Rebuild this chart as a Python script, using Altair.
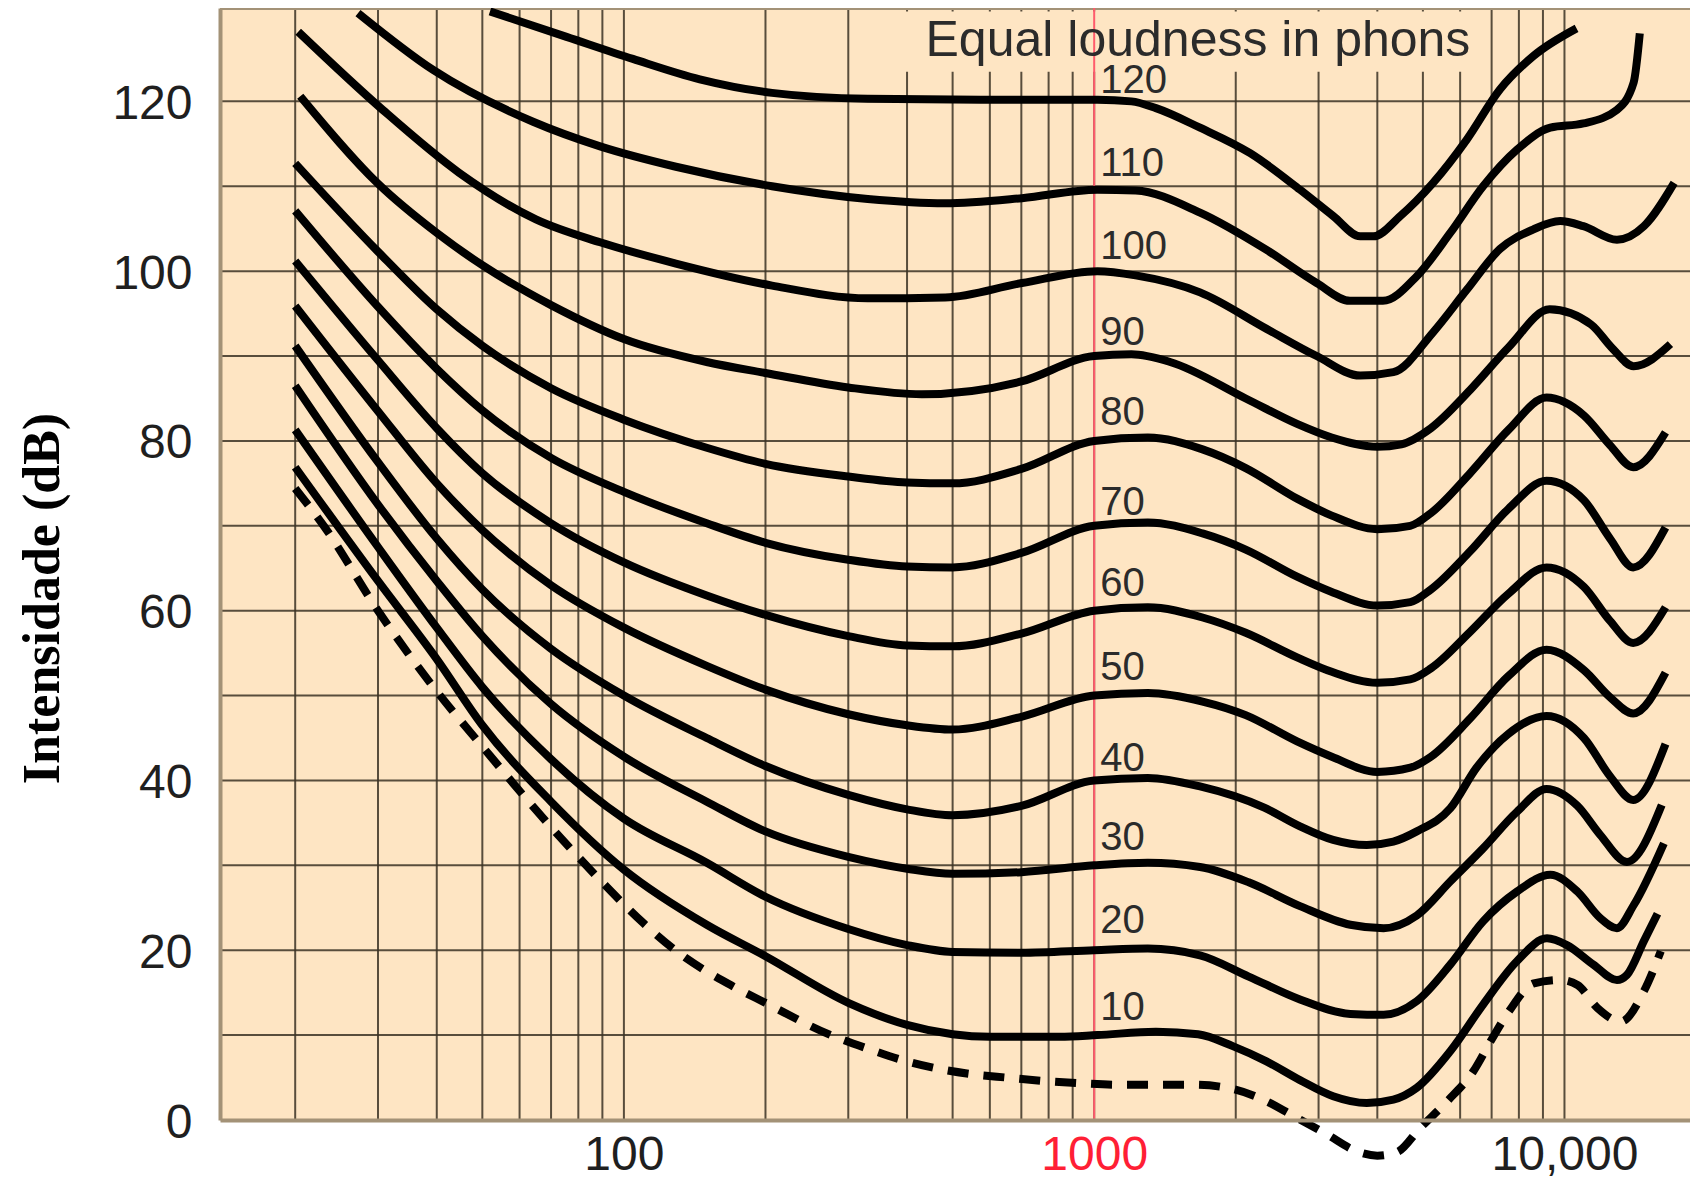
import altair as alt
import pandas as pd

# ---------------- data (frequency in Hz, level in dB) ----------------
f_thr = [20, 23, 30, 40, 50, 70, 90, 110, 130, 170, 200, 270, 330, 400, 460, 550, 650, 780, 950, 1140, 1374, 1625,
         1913, 2286, 2650, 3126, 3621, 4000, 4400, 4941, 5630, 6412, 6970, 7620, 8610, 9820, 10660, 11750, 13190, 14760, 16030]
db_thr = [74.4, 70.0, 60.0, 50.5, 44.0, 34.5, 28.0, 23.2, 19.8, 15.8, 13.8, 10.2, 8.4, 6.9, 6.1, 5.4, 5.0, 4.6, 4.3, 4.15, 4.15, 4.15,
          3.8, 2.4, 0.5, -1.7, -3.7, -4.2, -3.8, -0.9, 2.2, 5.8, 9.3, 12.8, 16.1, 16.5, 15.9, 13.2, 11.6, 15.2, 19.9]

f10 = [20, 30, 40, 50, 70, 100, 150, 200, 300, 400, 500, 600, 845, 1016, 1353, 1663, 1971, 2324, 2739, 3222, 3798, 4326, 4853,
       5716, 6714, 7921, 9180, 10120, 11520, 12930, 13580, 14760, 15770]
db10 = [76.9, 63.5, 54.3, 46.5, 37.5, 29.5, 23.0, 19.3, 13.8, 11.2, 10.1, 9.8, 9.8, 10.0, 10.4, 10.1, 8.7, 6.9, 4.7, 2.8, 2.0, 2.4, 3.8,
        8.1, 13.6, 18.7, 21.4, 20.6, 18.3, 16.5, 17.1, 21.1, 24.3]

f20 = [20, 30, 40, 50, 70, 100, 150, 200, 300, 400, 500, 700, 1000, 1300, 1679, 2131, 2739, 3505, 4126, 4853, 5716, 6714, 7921, 9330,
       10660, 11910, 12930, 14030, 16270]
db20 = [81.3, 67.5, 58.0, 51.0, 42.5, 35.5, 30.3, 26.3, 22.5, 20.6, 19.8, 19.7, 20.0, 20.2, 19.4, 16.9, 14.2, 12.5, 12.4, 14.0, 18.3, 23.4, 26.9, 28.9,
        26.9, 23.8, 22.6, 25.3, 32.6]

f30 = [20, 30, 40, 50, 70, 100, 150, 200, 300, 400, 500, 700, 1000, 1300, 1679, 2131, 2739, 3505, 4126, 4853, 5716, 6714, 7921, 9160,
       10660, 11910, 13580, 16100]
db30 = [86.5, 72.5, 63.5, 57.0, 49.0, 42.8, 37.5, 34.0, 31.0, 29.6, 29.0, 29.2, 30.0, 30.3, 29.8, 28.0, 25.2, 23.0, 22.6, 24.1, 28.1, 32.0, 36.3, 39.0,
        37.0, 33.6, 30.4, 37.1]

f40 = [20, 30, 40, 50, 70, 100, 150, 200, 300, 400, 500, 700, 1000, 1300, 1679, 2300, 2739, 3222, 3798, 4326, 4853, 5716, 6500, 7600, 9160,
       11000, 12500, 14000, 16400]
db40 = [91.2, 77.5, 68.5, 62.5, 55.5, 50.0, 45.0, 41.7, 38.3, 36.6, 35.9, 37.0, 40.0, 40.3, 39.3, 36.8, 34.6, 33.0, 32.4, 32.8, 34.0, 36.7, 41.5, 45.5, 47.6,
        45.0, 40.5, 37.7, 44.3]

f_mid = [20, 30, 40, 50, 70, 100, 150, 200, 300, 400, 500, 700, 1000, 1300, 1700, 2100, 2700, 3200, 4000, 4700, 5200, 6300, 7600, 9160,
         11000, 12500, 14000, 16400]
db50 = [95.9, 83.5, 75.0, 69.5, 63.0, 58.0, 53.5, 50.7, 47.8, 46.5, 46.0, 47.5, 50.0, 50.3, 49.3, 47.7, 44.6, 42.8, 41.0, 41.5, 42.8, 47.3, 52.3, 55.4,
        53.0, 49.8, 47.9, 52.7]
db60 = [101.2, 89.5, 81.5, 76.2, 70.3, 65.7, 61.8, 59.5, 57.0, 55.9, 55.8, 57.3, 60.0, 60.4, 59.2, 57.4, 54.5, 52.8, 51.5, 51.9, 53.2, 57.5, 62.0, 65.1,
        62.8, 58.8, 56.2, 60.4]
db70 = [107.1, 95.8, 88.5, 83.6, 78.0, 74.0, 70.3, 68.0, 66.0, 65.2, 65.1, 66.8, 70.0, 70.4, 69.1, 67.2, 64.0, 62.2, 60.6, 61.0, 62.5, 67.0, 72.0, 75.3,
        73.0, 68.5, 65.1, 69.8]
db80 = [112.7, 102.3, 95.5, 91.2, 86.2, 82.5, 79.2, 77.3, 75.8, 75.1, 75.0, 76.7, 80.0, 80.4, 79.0, 76.8, 73.2, 71.2, 69.6, 70.0, 71.5, 76.2, 81.3, 85.1,
        83.0, 79.5, 76.9, 81.0]

f90 = [20.5, 30, 40, 50, 70, 100, 150, 200, 300, 430, 700, 1000, 1200, 1450, 2100, 2700, 3200, 4000, 4500, 5200, 6300, 7600, 9300, 11400,
       12600, 14030, 16800]
db90 = [120.6, 110.3, 104.5, 100.7, 96.0, 92.0, 89.3, 88.0, 86.3, 85.5, 87.0, 90.0, 90.2, 89.3, 85.0, 82.0, 80.4, 79.3, 79.6, 81.5, 86.0, 91.0, 95.5, 93.7,
        91.0, 88.8, 91.4]

f100 = [20.3, 30.7, 44.6, 65, 89, 129, 206.5, 330, 482, 702, 1016, 1225, 1679, 2326, 2972, 3679, 4326, 5256, 6198, 7289,
        8570, 9790, 10970, 12930, 14760, 17110]
db100 = [128.2, 119.0, 111.6, 106.1, 103.4, 100.9, 98.3, 96.8, 96.9, 98.6, 100.0, 99.5, 97.5, 93.2, 90.0, 87.7, 88.1, 92.8, 97.8, 102.6,
         104.9, 105.9, 105.3, 103.7, 105.3, 110.4]

f110 = [27.2, 39.3, 64.1, 89, 129, 206.5, 330, 482, 702, 1016, 1225, 1679, 2326, 2972, 3499, 4112, 4853, 5716, 6714, 7921,
        9330, 10970, 12930, 14030, 14460]
db110 = [130.4, 123.7, 117.6, 114.7, 112.3, 110.0, 108.5, 108.0, 108.6, 109.6, 109.5, 106.9, 102.5, 98.6, 96.5, 96.5, 99.4, 104.5, 110.0, 114.3,
         116.9, 117.4, 119.0, 122.2, 128.0]

f120 = [51.9, 75.5, 104.5, 145, 206.5, 330, 579, 1016, 1200, 1353, 1679, 2146, 2739, 3222, 3679, 3921, 4477, 5256, 6198, 7289, 8570, 10610]
db120 = [130.6, 127.6, 125.0, 122.6, 121.0, 120.3, 120.2, 120.2, 120.0, 119.2, 116.9, 113.9, 109.6, 106.5, 104.1, 104.1, 106.5, 110.4, 115.5, 121.4,
         125.3, 128.6]

phon_labels = ["120", "110", "100", "90", "80", "70", "60", "50", "40", "30", "20", "10"]
phon_label_db = [122.4, 112.6, 102.9, 92.7, 83.3, 72.7, 63.2, 53.2, 42.5, 33.2, 23.4, 13.2]
phon_label_f = 1030

x_grid = [20, 30, 40, 50, 60, 70, 80, 90, 100, 200, 300, 400, 500, 600, 700, 800, 900,
          1000, 2000, 3000, 4000, 5000, 6000, 7000, 8000, 9000, 10000]
y_grid = [10, 20, 30, 40, 50, 60, 70, 80, 90, 100, 110, 120]
y_ticks = [0, 20, 40, 60, 80, 100, 120]
x_ticks = [100, 1000, 10000]
x_domain = [13.84, 18490]
y_domain = [0, 131]
title_text = "Equal loudness in phons"
title_pos = (1662, 125.4)
title_box_f = [350, 6600]
title_box_db = [123.5, 130.6]

BG = "#FEE5C3"
GRID = "#3b3325"
BORDER = "#a39277"
LABEL = "#1f1f1f"

# ---------------- build tables ----------------
curves = [("10", f10, db10), ("20", f20, db20), ("30", f30, db30), ("40", f40, db40),
          ("50", f_mid, db50), ("60", f_mid, db60), ("70", f_mid, db70), ("80", f_mid, db80),
          ("90", f90, db90), ("100", f100, db100), ("110", f110, db110), ("120", f120, db120)]
solid_df = pd.concat([pd.DataFrame({"f": f, "db": d, "curve": n, "i": list(range(len(f)))})
                      for n, f, d in curves], ignore_index=True)
thr_df = pd.DataFrame({"f": f_thr, "db": db_thr, "i": list(range(len(f_thr)))})
lab_df = pd.DataFrame({"f": [phon_label_f] * len(phon_labels), "db": phon_label_db, "t": phon_labels})

xscale = alt.Scale(type="log", domain=x_domain, nice=False)
yscale = alt.Scale(domain=y_domain, nice=False, zero=False)

x_axis = alt.Axis(
    values=x_ticks, grid=False, ticks=False, tickSize=0, domain=True, domainColor=BORDER, domainWidth=4,
    labelExpr="datum.value == 10000 ? '10,000' : datum.label",
    format="d",
    labelFont="Liberation Sans", labelFontSize=48, labelPadding=11, labelOverlap=False, labelFlush=False,
    labelBound=False,
    labelColor={"condition": {"test": "datum.value == 1000", "value": "#ff1f35"}, "value": LABEL},
    title=None, zindex=1,
)
y_axis = alt.Axis(
    values=y_ticks, grid=False, ticks=False, tickSize=0, domain=True, domainColor=BORDER, domainWidth=4,
    labelFont="Liberation Sans", labelFontSize=48, labelPadding=28, labelOffset=3,
    labelColor=LABEL, labelOverlap=False, labelFlush=False, labelBound=False,
    title="Intensidade (dB)", titleFont="Liberation Serif", titleFontSize=52, titleFontWeight="bold",
    titleColor="#000000", titleAngle=270, titleX=-178, titleY=590, titleAlign="center", titleBaseline="middle",
    zindex=1,
)

# plot background (same colour as the box behind the title)
bg = alt.Chart(pd.DataFrame({"f": [x_domain[0]], "f2": [x_domain[1]],
                             "db": [y_domain[0]], "db2": [y_domain[1]]})).mark_rect(
    fill=BG, strokeWidth=0).encode(
    x=alt.X("f:Q", scale=xscale, axis=x_axis), x2="f2:Q",
    y=alt.Y("db:Q", scale=yscale, axis=y_axis), y2="db2:Q")

vgrid = alt.Chart(pd.DataFrame({"f": x_grid})).mark_rule(color=GRID, strokeWidth=2, opacity=0.85).encode(
    x=alt.X("f:Q", scale=xscale))
hgrid = alt.Chart(pd.DataFrame({"db": y_grid})).mark_rule(color=GRID, strokeWidth=2, opacity=0.85).encode(
    y=alt.Y("db:Q", scale=yscale))

box = alt.Chart(pd.DataFrame({"f": [title_box_f[0]], "f2": [title_box_f[1]],
                              "db": [title_box_db[0]], "db2": [title_box_db[1]]})).mark_rect(
    fill=BG, strokeWidth=0).encode(
    x=alt.X("f:Q", scale=xscale), x2="f2:Q",
    y=alt.Y("db:Q", scale=yscale), y2="db2:Q")

top_border = alt.Chart(pd.DataFrame({"db": [y_domain[1]]})).mark_rule(
    color=BORDER, strokeWidth=4).encode(y=alt.Y("db:Q", scale=yscale))

red = alt.Chart(pd.DataFrame({"f": [1000]})).mark_rule(color="#ff5c6c", strokeWidth=2).encode(
    x=alt.X("f:Q", scale=xscale))

solid = alt.Chart(solid_df).mark_line(color="black", strokeWidth=8, interpolate="monotone",
                                       strokeCap="butt", strokeJoin="round").encode(
    x=alt.X("f:Q", scale=xscale), y=alt.Y("db:Q", scale=yscale), detail="curve:N", order="i:Q")

thr = alt.Chart(thr_df).mark_line(color="black", strokeWidth=8, interpolate="monotone",
                                  strokeDash=[21, 15], strokeCap="butt").encode(
    x=alt.X("f:Q", scale=xscale), y=alt.Y("db:Q", scale=yscale), order="i:Q")

labels = alt.Chart(lab_df).mark_text(align="left", baseline="middle", font="Liberation Sans",
                                      fontSize=40, color="#2b2b2b").encode(
    x=alt.X("f:Q", scale=xscale), y=alt.Y("db:Q", scale=yscale), text="t:N")

title = alt.Chart(pd.DataFrame({"f": [title_pos[0]], "db": [title_pos[1]], "t": [title_text]})).mark_text(
    align="center", baseline="alphabetic", font="Liberation Sans", fontSize=50, color="#2b2b2b").encode(
    x=alt.X("f:Q", scale=xscale), y=alt.Y("db:Q", scale=yscale), text="t:N")

chart = alt.layer(bg, vgrid, hgrid, box, top_border, red, solid, thr, labels, title).properties(
    width=1470, height=1112,
    autosize=alt.AutoSizeParams(type="none"),
    padding={"left": 212, "top": 0, "right": 0, "bottom": 62},
).configure_view(stroke=None).configure(background="white")

chart.save("out.html", embed_options={"renderer": "svg", "actions": False})
